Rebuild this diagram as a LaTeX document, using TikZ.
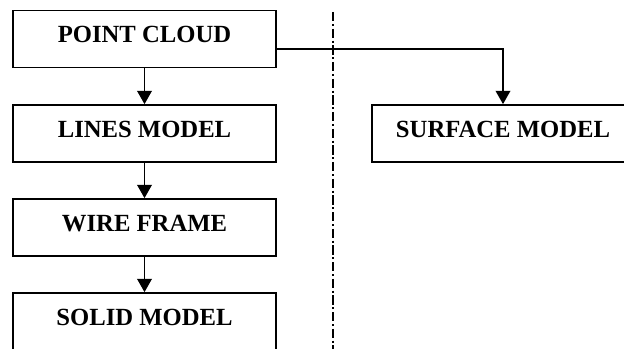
\documentclass[tikz,border=0pt]{standalone}
\usepackage{fontspec}
\setmainfont{Liberation Serif}
\usetikzlibrary{arrows.meta}

\tikzset{
  modelbox/.style={draw=black, line width=1.3pt, minimum width=197pt, minimum height=42.75pt,
    text height=15pt, text depth=9pt, inner sep=0pt,
    font=\fontsize{18.5}{20}\selectfont\bfseries},
  flow/.style={line width=1.2pt, -{Triangle[length=10pt, width=11pt]}}
}

\begin{document}
\begin{tikzpicture}[x=0.75pt, y=-0.75pt]
                \useasboundingbox (0,0) rectangle (624,349);

                %% left column
                \node[modelbox] (cloud) at (144.5,39)    {POINT CLOUD};
                \node[modelbox] (lines) at (144.5,133.5) {LINES MODEL};
                \node[modelbox] (wire)  at (144.5,227.5) {WIRE FRAME};
                \node[modelbox] (solid) at (144.5,321.5) {SOLID MODEL};

                %% right column
                \node[modelbox] (surface) at (503,133.5) {SURFACE MODEL};

                %% separator
                \coordinate (septop) at (333,12);
                \coordinate (sepbot) at (333,352);
                \draw[line width=0.9pt, dash pattern=on 7pt off 2pt on 1.5pt off 2pt] (septop) -- (sepbot);

                %% arrows
                \draw[flow] (cloud) -- (lines);
                \draw[flow] (lines) -- (wire);
                \draw[flow] (wire) -- (solid);
                \draw[flow] ([yshift=-7.5pt]cloud.east) -| (surface.north);
\end{tikzpicture}
\end{document}
